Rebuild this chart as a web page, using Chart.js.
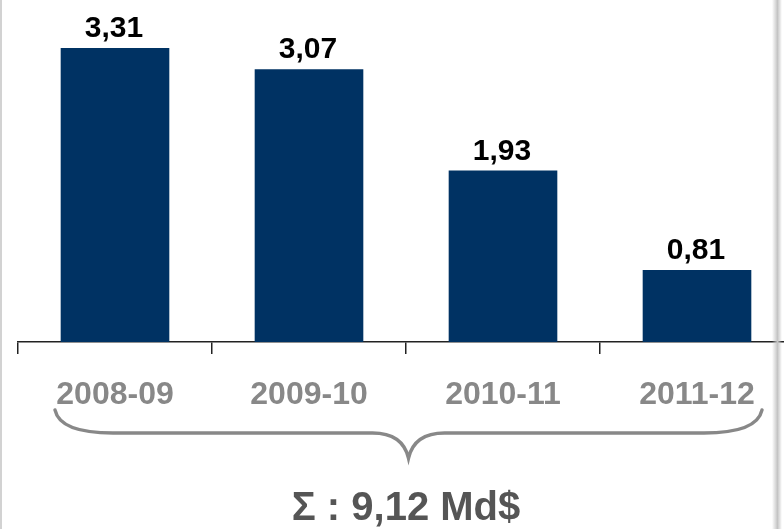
<!DOCTYPE html>
<html>
<head>
<meta charset="utf-8">
<script src="https://cdn.jsdelivr.net/npm/chart.js@4"></script>
<style>
    html, body { margin: 0; padding: 0; background: #fff; overflow: hidden; }
    #wrap { position: relative; width: 784px; height: 529px; overflow: hidden; }
    #box { position: absolute; left: 0; top: 0; width: 794px; height: 529px; }
    #edgeLeft { position: absolute; left: 0; top: 0; width: 2px; height: 529px; background: #d2d2d2; }
    #edgeRight { position: absolute; left: 772px; top: 0; width: 10px; height: 529px;
        background: linear-gradient(to right, rgba(200,200,200,0), #c4c4c4 55%, rgba(200,200,200,0)); }
</style>
</head>
<body>
<div id="wrap">
    <div id="box"><canvas id="savingsChart"></canvas></div>
    <div id="edgeLeft"></div>
    <div id="edgeRight"></div>
</div>
<script>
// Data
const seasons = ['2008-09', '2009-10', '2010-11', '2011-12'];
const amounts = [3.31, 3.07, 1.93, 0.81];
const totalText = 'Σ : 9,12 Md$';

document.addEventListener('DOMContentLoaded', function() {
    const ctx = document.getElementById('savingsChart').getContext('2d');

    // Value labels above each bar
    const valueLabels = {
        id: 'valueLabels',
        afterDatasetsDraw(chart) {
            const c = chart.ctx;
            const meta = chart.getDatasetMeta(0);
            c.save();
            c.font = 'bold 30px "Liberation Sans", Arial, sans-serif';
            c.fillStyle = '#000';
            c.textAlign = 'center';
            c.textBaseline = 'alphabetic';
            meta.data.forEach((bar, i) => {
                const txt = amounts[i].toLocaleString('fr-FR', { minimumFractionDigits: 2 });
                c.fillText(txt, bar.x - 1, bar.y - 11);
            });
            c.restore();
        }
    };

    // Curly brace under the category labels
    const brace = {
        id: 'brace',
        afterDraw(chart) {
            const xs = chart.scales.x;
            const c = chart.ctx;
            const left = xs.getPixelForValue(0) - 60;
            const right = xs.getPixelForValue(seasons.length - 1) + 65;
            const mid = (left + right) / 2;
            const top = 410, line = 433, tip = 458;
            c.save();
            c.strokeStyle = '#888';
            c.lineWidth = 3.5;
            c.lineCap = 'round';
            c.beginPath();
            c.moveTo(left, top);
            c.quadraticCurveTo(left + 5, line, left + 58, line);
            c.lineTo(mid - 36, line);
            c.quadraticCurveTo(mid - 6, line, mid, tip);
            c.quadraticCurveTo(mid + 6, line, mid + 36, line);
            c.lineTo(right - 58, line);
            c.quadraticCurveTo(right - 5, line, right, top);
            c.stroke();
            c.restore();
        }
    };

    new Chart(ctx, {
        type: 'bar',
        data: {
            labels: seasons,
            datasets: [{
                data: amounts,
                backgroundColor: '#003263',
                borderWidth: 0,
                barPercentage: 0.56,
                categoryPercentage: 1
            }]
        },
        options: {
            responsive: true,
            maintainAspectRatio: false,
            animation: false,
            layout: { padding: { left: 18, right: 0, top: 0, bottom: 0 } },
            plugins: {
                legend: { display: false },
                tooltip: { enabled: false },
                title: {
                    display: true,
                    position: 'bottom',
                    text: totalText,
                    color: '#555',
                    font: { family: '"Liberation Sans", Arial, sans-serif', size: 40, weight: 'bold', lineHeight: 1 },
                    padding: { top: 74, bottom: 0 }
                }
            },
            scales: {
                x: {
                    afterFit(scale) { scale.height = 73; },
                    grid: {
                        display: true,
                        drawOnChartArea: false,
                        drawTicks: true,
                        tickLength: 12,
                        color: '#222',
                        lineWidth: 1.5
                    },
                    border: { display: true, color: '#222', width: 1.5 },
                    ticks: {
                        color: '#888',
                        padding: 22,
                        font: { family: '"Liberation Sans", Arial, sans-serif', size: 32, weight: 'bold' }
                    }
                },
                y: {
                    display: false,
                    min: 0,
                    max: 3.85
                }
            }
        },
        plugins: [valueLabels, brace]
    });
});
</script>
</body>
</html>
